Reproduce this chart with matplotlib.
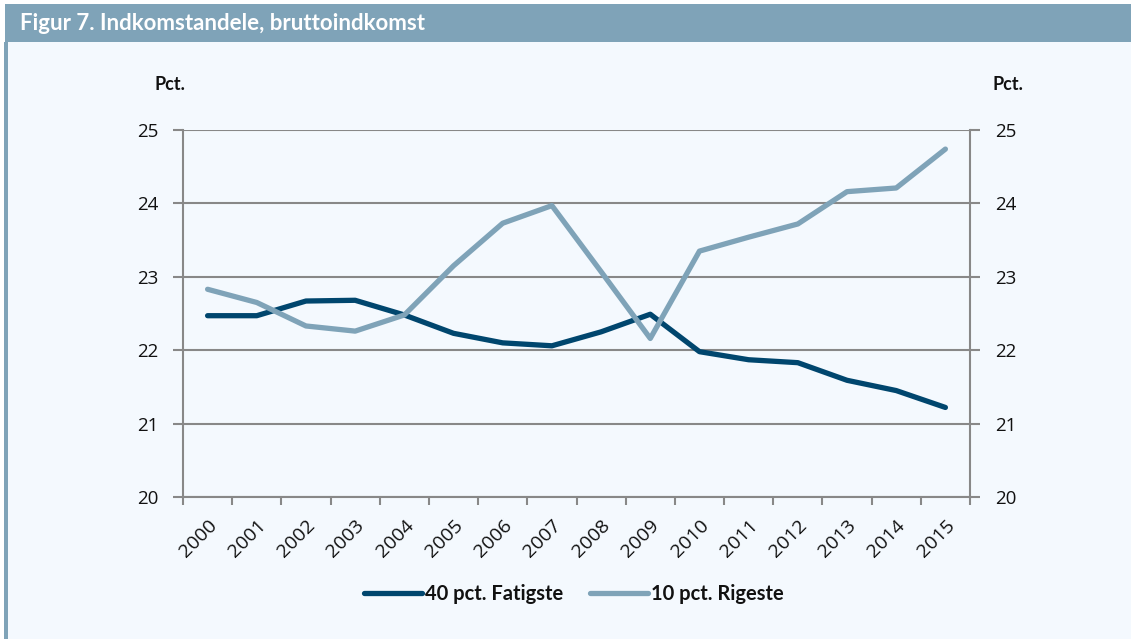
import matplotlib
matplotlib.use("Agg")
import matplotlib.pyplot as plt
import numpy as np
from matplotlib.patches import Rectangle

years = ["2000", "2001", "2002", "2003", "2004", "2005", "2006", "2007",
         "2008", "2009", "2010", "2011", "2012", "2013", "2014", "2015"]
poorest40 = [22.47, 22.47, 22.67, 22.68, 22.48, 22.23, 22.10, 22.06,
             22.25, 22.49, 21.98, 21.87, 21.83, 21.59, 21.45, 21.22]
richest10 = [22.83, 22.65, 22.33, 22.26, 22.48, 23.15, 23.73, 23.97,
             23.07, 22.16, 23.35, 23.54, 23.72, 24.16, 24.21, 24.74]
series_names = ["40 pct. Fatigste", "10 pct. Rigeste"]
yticks = [20, 21, 22, 23, 24, 25]
title = "Figur 7. Indkomstandele, bruttoindkomst"
unit = "Pct."

W, H = 1131, 639
BG = "#F4F9FE"
HEAD = "#7FA3B8"
DARK = "#00466E"
LIGHT = "#7FA3B8"
GRID = "#888888"
FONT = "Open Sans"
BFONT = "Lato"

fig = plt.figure(figsize=(W / 100, H / 100), dpi=100)
fig.patch.set_facecolor("white")

# background panel
fig.add_artist(Rectangle((5 / W, 0), 1 - 5 / W, 1 - 42 / H, transform=fig.transFigure,
                         facecolor=BG, edgecolor="none", zorder=-10))
# header band
fig.add_artist(Rectangle((5 / W, 1 - 42 / H), 1 - 5 / W, 38 / H, transform=fig.transFigure,
                         facecolor=HEAD, edgecolor="none", zorder=-9))
# left border
fig.add_artist(Rectangle((4 / W, 0), 4 / W, 1 - 42 / H, transform=fig.transFigure,
                         facecolor=HEAD, edgecolor="none", zorder=-8))
fig.text(20 / W, 1 - 24 / H, title, color="white", fontsize=16, fontweight="bold",
         family=BFONT, ha="left", va="center")

ax = fig.add_axes([183 / W, 1 - 497 / H, (970 - 183) / W, (497 - 130) / H])
ax.set_facecolor(BG)
x = np.arange(len(years))
ax.plot(x, poorest40, color=DARK, lw=3.8, solid_capstyle="round", solid_joinstyle="round",
        label=series_names[0], zorder=3)
ax.plot(x, richest10, color=LIGHT, lw=3.8, solid_capstyle="round", solid_joinstyle="round",
        label=series_names[1], zorder=3)

ax.set_xlim(-0.5, len(years) - 0.5)
ax.set_ylim(20, 25)
ax.set_yticks(yticks)
ax.set_yticklabels([str(v) for v in yticks])
ax.yaxis.grid(True, color=GRID, lw=1.5)
ax.set_axisbelow(True)

ax.set_xticks(np.arange(-0.5, len(years), 1.0))
ax.set_xticklabels([])
ax.set_xticks(x, minor=True)
ax.set_xticklabels(years, minor=True, rotation=45, ha="right", rotation_mode="anchor",
                   family=FONT, fontsize=14, color="#111111")
ax.tick_params(axis="x", which="major", length=6, width=1.5, color=GRID, direction="out")
ax.tick_params(axis="x", which="minor", length=0, pad=14)
ax.tick_params(axis="y", which="major", length=7, width=1.5, color=GRID, direction="out",
               left=True, right=True, labelleft=True, labelright=True, pad=11,
               labelsize=13.5, labelcolor="#111111")
for lab in ax.get_yticklabels():
    lab.set_family(FONT)

for s in ["left", "right", "bottom"]:
    ax.spines[s].set_color(GRID)
    ax.spines[s].set_linewidth(1.5)
ax.spines["top"].set_visible(False)

fig.text(170 / W, 1 - 85 / H, unit, fontsize=13, fontweight="bold", family=BFONT,
         ha="center", va="center", color="#111111")
fig.text(1008 / W, 1 - 85 / H, unit, fontsize=13, fontweight="bold", family=BFONT,
         ha="center", va="center", color="#111111")

leg = fig.legend(loc="center", bbox_to_anchor=(574 / W, 1 - 594 / H), ncol=2, frameon=False,
                 prop={"family": BFONT, "weight": "bold", "size": 14.5}, handlelength=2.9,
                 handletextpad=0.15, columnspacing=1.3)
for t in leg.get_texts():
    t.set_color("#111111")

fig.savefig("out.png", dpi=100, facecolor=fig.get_facecolor())
